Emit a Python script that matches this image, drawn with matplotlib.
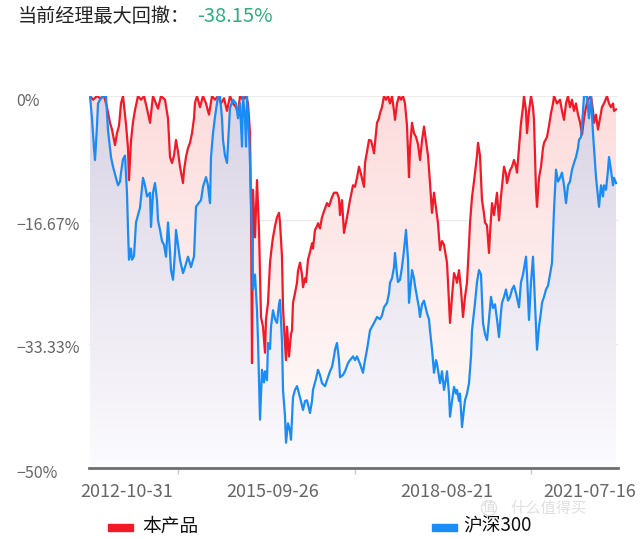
import numpy as np
import matplotlib
matplotlib.use("Agg")
import matplotlib.pyplot as plt
import matplotlib.transforms as mtransforms
from matplotlib.patches import Polygon, Rectangle

plt.rcParams['font.family'] = ['Noto Sans CJK SC', 'DejaVu Sans']

# Drawdown series (weekly index, percent)
red_week = [0, 3, 7, 10, 14, 17, 20, 22, 25, 27, 29, 31, 33, 36, 38, 39, 41, 43, 45, 48, 51, 54, 57, 60, 63, 66, 68, 71,
            75, 78, 80, 82, 84, 86, 88, 90, 93, 94, 96, 98, 100, 102, 104, 105, 107, 110, 113, 116, 119, 122, 125, 128,
            131, 134, 137, 140, 143, 146, 148, 150, 153, 156, 158, 160, 161, 162, 163, 165, 167, 169, 171, 173, 175, 176,
            178, 180, 182, 183, 185, 187, 189, 190, 192, 193, 194, 196, 197, 198, 199, 201, 202, 203, 205, 207, 208, 210,
            212, 213, 215, 216, 218, 220, 222, 223, 225, 227, 228, 230, 232, 234, 237, 239, 242, 244, 247, 249, 250, 252,
            254, 257, 260, 263, 265, 267, 269, 271, 274, 275, 277, 279, 281, 282, 284, 286, 287, 289, 290, 292, 294, 296,
            298, 300, 302, 304, 305, 307, 309, 311, 313, 315, 317, 319, 320, 322, 324, 326, 328, 330, 332, 334, 336, 338,
            340, 342, 344, 346, 348, 350, 352, 354, 357, 358, 360, 362, 364, 366, 367, 369, 371, 373, 375, 377, 379, 380,
            382, 384, 385, 387, 388, 390, 392, 394, 395, 397, 399, 400, 402, 404, 405, 407, 409, 411, 414, 416, 417, 420,
            422, 424, 426, 427, 429, 431, 433, 434, 436, 437, 439, 441, 443, 444, 446, 447, 449, 451, 453, 454, 457, 459,
            461, 463, 464, 467, 470, 472, 474, 476, 478, 480, 482, 484, 486, 488, 490, 492, 494, 496, 498, 501, 503, 504,
            506, 508, 510, 512, 514, 517, 519, 521, 523, 524, 526]
red_dd = [0, -0.5, 0, -0.3, 0, -1.5, -3.6, -4.5, -6.6, -5.0, -4.0, -1.0, 0, -3.8, -7.0, -11.3, -6.0, -3.5, -1.9, 0, -0.5,
          0, -1.7, -3.6, 0, -1.0, -1.7, 0, -0.5, -3.0, -8.2, -9.0, -8.0, -5.9, -7.5, -9.5, -11.7, -10.0, -8.2, -7.0, -6.3,
          -5.0, -3.0, -0.9, 0, -1.5, 0, -1.0, -2.5, 0, -0.5, 0, -1.0, -0.3, -2.0, 0, -1.0, -1.5, -2.3, 0, -0.5, 0, -1.0,
          -5.0, -15.0, -35.9, -12.6, -19.0, -11.3, -18.0, -29.7, -31.0, -34.5, -30.0, -27.8, -22.4, -20.0, -19.0, -17.5,
          -16.3, -15.7, -17.0, -21.6, -28.4, -31.0, -35.5, -31.0, -33.0, -35.0, -32.0, -31.5, -27.8, -26.5, -25.1, -23.5,
          -22.4, -24.0, -25.7, -24.5, -25.0, -22.0, -21.0, -19.8, -20.5, -18.0, -17.5, -17.1, -17.8, -16.3, -15.5, -14.4,
          -14.8, -13.6, -13.0, -13.0, -13.8, -16.0, -14.0, -18.4, -16.3, -14.0, -12.0, -12.2, -11.0, -9.5, -10.5, -12.2,
          -9.0, -7.5, -5.9, -6.0, -6.5, -7.7, -5.0, -3.6, -3.0, -2.3, -1.5, 0, -0.5, 0, -1.0, 0, -2.0, -3.2, -1.0, 0,
          -0.5, 0, -1.0, -4.0, -10.9, -7.0, -3.6, -5.0, -5.5, -6.5, -8.6, -6.0, -4.1, -6.0, -8.0, -11.7, -15.7, -13.0,
          -15.0, -17.1, -20.7, -19.5, -20.0, -22.4, -25.0, -30.5, -27.0, -23.8, -24.5, -25.1, -23.4, -26.0, -29.7, -27.0,
          -25.1, -20.0, -17.1, -13.6, -11.5, -10.3, -8.0, -6.3, -8.0, -14.0, -15.8, -17.0, -17.4, -21.1, -18.5, -14.4,
          -16.0, -15.0, -13.0, -16.7, -13.5, -9.5, -10.5, -11.7, -10.0, -9.5, -8.6, -9.5, -10.3, -7.0, -3.6, -1.5, 0,
          -2.0, -5.0, -2.0, 0, -1.5, -3.2, -12.6, -14.9, -11.0, -9.5, -7.0, -6.3, -5.5, -4.0, -2.3, -1.0, 0, -1.0, -0.5,
          -2.0, -3.2, -1.0, 0, -1.5, -0.5, -2.0, -1.0, -2.5, -3.5, -5.2, -3.0, -1.5, -0.5, 0, -2.0, -3.6, -2.5, -4.5,
          -3.0, -1.5, -1.0, 0, -1.0, -1.5, -1.0, -2.0, -1.8]

hs_week = [0, 2, 4, 5, 7, 8, 10, 13, 16, 18, 20, 21, 23, 25, 28, 30, 31, 33, 35, 37, 38, 39, 41, 42, 44, 46, 48, 50, 53,
           55, 57, 60, 61, 63, 65, 67, 68, 70, 72, 74, 76, 78, 80, 81, 83, 85, 86, 88, 90, 93, 95, 98, 100, 101, 103, 104,
           106, 108, 111, 113, 116, 118, 120, 121, 123, 125, 127, 128, 130, 132, 133, 135, 137, 139, 140, 143, 146, 148,
           150, 152, 153, 155, 156, 157, 159, 160, 162, 163, 165, 167, 168, 170, 171, 172, 174, 175, 177, 178, 180, 181,
           183, 185, 187, 189, 190, 192, 193, 195, 196, 198, 200, 201, 203, 205, 207, 209, 210, 213, 215, 217, 219, 220,
           222, 223, 226, 228, 230, 232, 235, 238, 240, 242, 244, 245, 247, 249, 250, 253, 255, 258, 260, 263, 265, 267,
           270, 273, 275, 277, 280, 282, 284, 287, 290, 292, 294, 297, 299, 300, 302, 304, 305, 307, 308, 310, 312, 314,
           316, 318, 319, 321, 322, 324, 325, 327, 329, 330, 332, 334, 337, 339, 340, 342, 344, 346, 347, 350, 352, 354,
           356, 357, 359, 360, 362, 364, 366, 367, 369, 370, 372, 374, 375, 377, 379, 381, 382, 384, 385, 387, 389, 391,
           393, 395, 397, 399, 401, 403, 405, 407, 409, 411, 412, 414, 416, 418, 420, 422, 424, 426, 429, 431, 433, 436,
           437, 439, 441, 443, 445, 447, 449, 451, 452, 454, 456, 458, 460, 462, 463, 464, 466, 468, 470, 472, 474, 476,
           478, 480, 482, 484, 486, 488, 489, 491, 492, 494, 497, 499, 501, 503, 506, 508, 509, 511, 513, 514, 516, 518,
           519, 521, 523, 524, 526]
hs_dd = [0, -3.0, -7.0, -8.6, -4.0, -1.0, -0.5, 0, 0, -4.6, -7.0, -8.2, -9.5, -10.5, -12.0, -11.5, -10.3, -8.5, -8.0,
         -13.0, -18.0, -22.0, -20.5, -22.0, -21.5, -17.0, -16.0, -15.0, -11.0, -12.0, -13.5, -13.0, -17.6, -13.0, -11.7,
         -14.0, -16.7, -18.0, -19.5, -20.0, -21.6, -17.0, -21.0, -23.4, -24.7, -21.0, -18.0, -20.0, -22.0, -23.8, -23.0,
         -21.6, -22.5, -23.0, -22.0, -21.6, -14.9, -14.5, -14.0, -12.2, -10.9, -12.0, -14.4, -8.2, -5.0, -2.8, -1.0, 0,
         0, -3.0, -5.9, -8.0, -9.0, -4.0, -1.6, -0.5, -1.0, -3.0, -1.0, -6.8, 0, -3.0, -6.8, 0, -5.0, -9.0, -19.4, -26.0,
         -24.0, -28.8, -32.8, -43.5, -40.0, -36.8, -38.5, -37.0, -38.2, -33.2, -34.0, -31.0, -28.8, -30.0, -30.5, -28.0,
         -27.4, -33.0, -39.5, -43.0, -46.6, -44.0, -45.0, -46.2, -40.5, -39.5, -39.0, -40.0, -40.5, -42.2, -41.0, -40.9,
         -42.0, -42.6, -41.0, -39.5, -38.0, -36.8, -37.5, -38.6, -39.0, -37.8, -37.0, -36.4, -35.0, -34.1, -33.2, -35.5,
         -37.8, -37.5, -37.0, -35.9, -35.5, -35.0, -35.5, -35.0, -36.0, -37.2, -35.5, -34.1, -31.5, -31.0, -30.5, -29.7,
         -30.0, -29.5, -28.4, -27.8, -26.5, -25.1, -24.5, -23.0, -21.1, -24.0, -25.0, -24.7, -23.0, -20.7, -18.0, -22.0,
         -27.8, -25.0, -23.4, -24.5, -25.5, -27.0, -28.5, -29.7, -28.0, -27.5, -29.2, -30.0, -31.5, -34.0, -37.2, -35.5,
         -36.0, -38.6, -37.0, -39.5, -38.0, -37.0, -40.0, -43.1, -41.0, -39.1, -40.0, -39.5, -41.0, -40.0, -44.5, -42.0,
         -40.9, -40.0, -38.6, -35.0, -31.5, -29.0, -27.8, -25.0, -23.4, -24.0, -30.5, -32.0, -32.8, -30.0, -27.0, -28.5,
         -28.0, -30.0, -32.4, -29.0, -27.8, -27.0, -26.0, -27.5, -27.0, -26.0, -25.5, -26.5, -28.4, -25.0, -24.0, -21.6,
         -24.0, -30.1, -25.0, -21.6, -28.0, -34.1, -31.0, -29.0, -27.8, -27.0, -26.0, -25.5, -24.0, -22.4, -19.0, -15.3,
         -9.9, -11.5, -11.0, -10.3, -12.0, -14.4, -12.0, -11.5, -9.9, -9.0, -8.2, -7.0, -5.9, -5.5, -4.0, 0, 0, -3.0, 0,
         -5.0, -10.9, -13.5, -14.9, -12.0, -13.5, -12.0, -12.6, -10.0, -8.2, -10.0, -12.0, -11.0, -11.7]

y_ticks = [0, -16.67, -33.33, -50]
y_labels = ['0%', '\u221216.67%', '\u221233.33%', '\u221250%']
x_label_week = [37, 183, 357, 500]
x_labels = ['2012-10-31', '2015-09-26', '2018-08-21', '2021-07-16']
x_tick_week = [88, 265, 441]
max_dd_text = '-38.15%'

RED = '#f01b26'
BLUE = '#1a8cf5'


def gradient_fill(ax, x, y, top_rgb, bot_rgb, z):
    x = np.asarray(x, float)
    y = np.asarray(y, float)
    verts = np.column_stack([np.r_[x, x[::-1]], np.r_[y, np.full(len(y), -50.0)]])
    patch = Polygon(verts, facecolor='none', edgecolor='none')
    ax.add_patch(patch)
    t = np.linspace(0, 1, 256)[:, None]
    top = np.array(top_rgb) / 255.0
    bot = np.array(bot_rgb) / 255.0
    img = (1 - t) * top + t * bot
    img = img[:, None, :]
    im = ax.imshow(img, extent=[x.min(), x.max(), -50, 0], origin='upper',
                   aspect='auto', zorder=z, interpolation='bilinear')
    im.set_clip_path(patch)


fig = plt.figure(figsize=(6.4, 5.39), dpi=100)
ax = fig.add_axes([89 / 640, 71 / 539, (618 - 89) / 640, (468 - 96) / 539])

gradient_fill(ax, red_week, red_dd, (253, 220, 220), (255, 253, 253), 1)
gradient_fill(ax, hs_week, hs_dd, (217, 211, 228), (252, 251, 254), 2)
ax.plot(red_week, red_dd, color=RED, lw=1.6, zorder=4)
ax.plot(hs_week, hs_dd, color=BLUE, lw=1.6, zorder=5)

ax.set_xlim(-1, 528)
ax.set_ylim(-50, 0)

ax.set_yticks(y_ticks)
ax.set_yticklabels(y_labels, fontsize=11.5, color='#666666', ha='left')
ax.tick_params(axis='y', length=0, pad=52.5)
offset = mtransforms.ScaledTranslation(0, -3 / 100, fig.dpi_scale_trans)
for lab in ax.get_yticklabels():
    lab.set_transform(lab.get_transform() + offset)

ax.set_xticks(x_tick_week)
ax.set_xticklabels([])
ax.tick_params(axis='x', which='major', length=4, color='#cccccc', width=1)
ax.set_xticks(x_label_week, minor=True)
ax.set_xticklabels(x_labels, minor=True, fontsize=13, color='#666666')
ax.tick_params(axis='x', which='minor', length=0, pad=10.5)

ax.grid(axis='y', color='#ebebeb', lw=0.9, zorder=0)
ax.set_axisbelow(True)
for s in ['top', 'right', 'left']:
    ax.spines[s].set_visible(False)
ax.spines['bottom'].set_color('#6e6e6e')
ax.spines['bottom'].set_linewidth(2)
ax.spines['bottom'].set_zorder(6)

# title
fig.text(18 / 640, 1 - 17 / 539, '当前经理最大回撤：', fontsize=13.8, color='#222222', va='center')
fig.text(197 / 640, 1 - 17 / 539, max_dd_text, fontsize=14.5, color='#2bb07f', va='center')

# legend
fig.patches.append(Rectangle((108 / 640, 1 - 531 / 539), 25 / 640, 7 / 539,
                             transform=fig.transFigure, color=RED))
fig.text(142 / 640, 1 - 526 / 539, '本产品', fontsize=13.5, color='#111111', va='center')
fig.patches.append(Rectangle((432 / 640, 1 - 531 / 539), 25 / 640, 7 / 539,
                             transform=fig.transFigure, color=BLUE))
fig.text(463 / 640, 1 - 526 / 539, '沪深300', fontsize=13.5, color='#111111', va='center')

# watermark
fig.text(489 / 640, 1 - 508 / 539, '值', fontsize=9, color='#dcdcdc', va='center', ha='center',
         bbox=dict(boxstyle='circle,pad=0.08', fc='none', ec='#e2e2e2', lw=1.0))
fig.text(510 / 640, 1 - 508 / 539, '什么值得买', fontsize=11, color='#e0e0e0', va='center')

fig.savefig('out.png', dpi=100)
